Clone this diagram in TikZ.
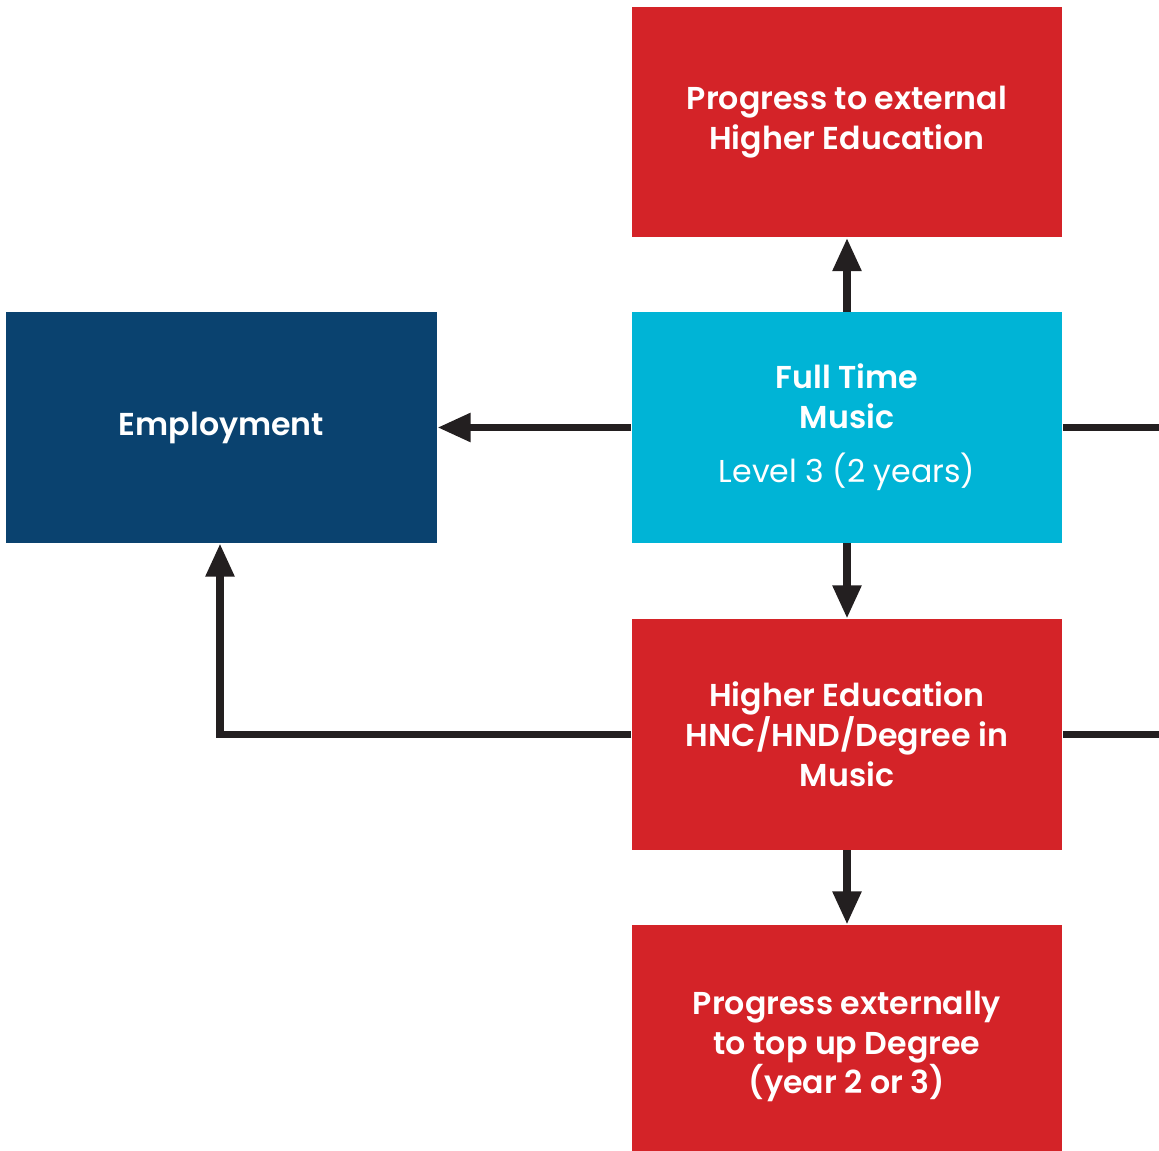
\documentclass[tikz,border=0pt]{standalone}
\usepackage{fontspec}
\setmainfont{Poppins}[BoldFont={Poppins SemiBold}]
\usetikzlibrary{arrows.meta}
\definecolor{boxred}{HTML}{D42328}
\definecolor{boxcyan}{HTML}{00B4D6}
\definecolor{boxnavy}{HTML}{0A426F}
\definecolor{linkblack}{HTML}{231F20}
\tikzset{
  stage/.style={minimum width=8.62cm, minimum height=4.62cm, inner sep=0pt,
    text=white, align=center, font=\fontsize{18}{22.7}\selectfont\bfseries},
  link/.style={draw=linkblack, line width=4.5pt},
  linkarrow/.style={link, -{Triangle[width=15.5pt,length=19pt]}}
}
\begin{document}
\begin{tikzpicture}[x=0.02cm,y=-0.02cm]
      \useasboundingbox (0,0) rectangle (1159,1151);
      \clip (0,0) rectangle (1159,1151);
      \draw
        (847,122) node[stage, fill=boxred] (external){Progress to external\\Higher Education}
        (847,427.5) node[stage, fill=boxcyan] (fulltime){Full Time\\Music\\[8pt]{\mdseries Level 3 (2 years)}}
        (221.5,427.5) node[stage, fill=boxnavy] (employment){Employment}
        (847,734.5) node[stage, fill=boxred] (higher){Higher Education\\HNC/HND/Degree in\\Music}
        (847,1046.5) node[stage, fill=boxred, minimum height=4.86cm] (topup){Progress externally\\to top up Degree\\(year 2 or 3)};
      \coordinate (fulledge) at (1165,427.5);
      \coordinate (higheredge) at (1165,734.5);
      \coordinate (corner) at (220,734.5);
      \begin{scope}[linkarrow]
        \draw (fulltime.north) to (external.south);
        \draw (fulltime.west) to (employment.east);
        \draw (fulltime.south) to (higher.north);
        \draw (higher.south) to (topup.north);
        \draw (higher.west) -- (corner) -- (corner |- employment.south);
      \end{scope}
      \begin{scope}[link]
        \draw (fulltime.east) to (fulledge);
        \draw (higher.east) to (higheredge);
      \end{scope}
    \end{tikzpicture}
\end{document}
